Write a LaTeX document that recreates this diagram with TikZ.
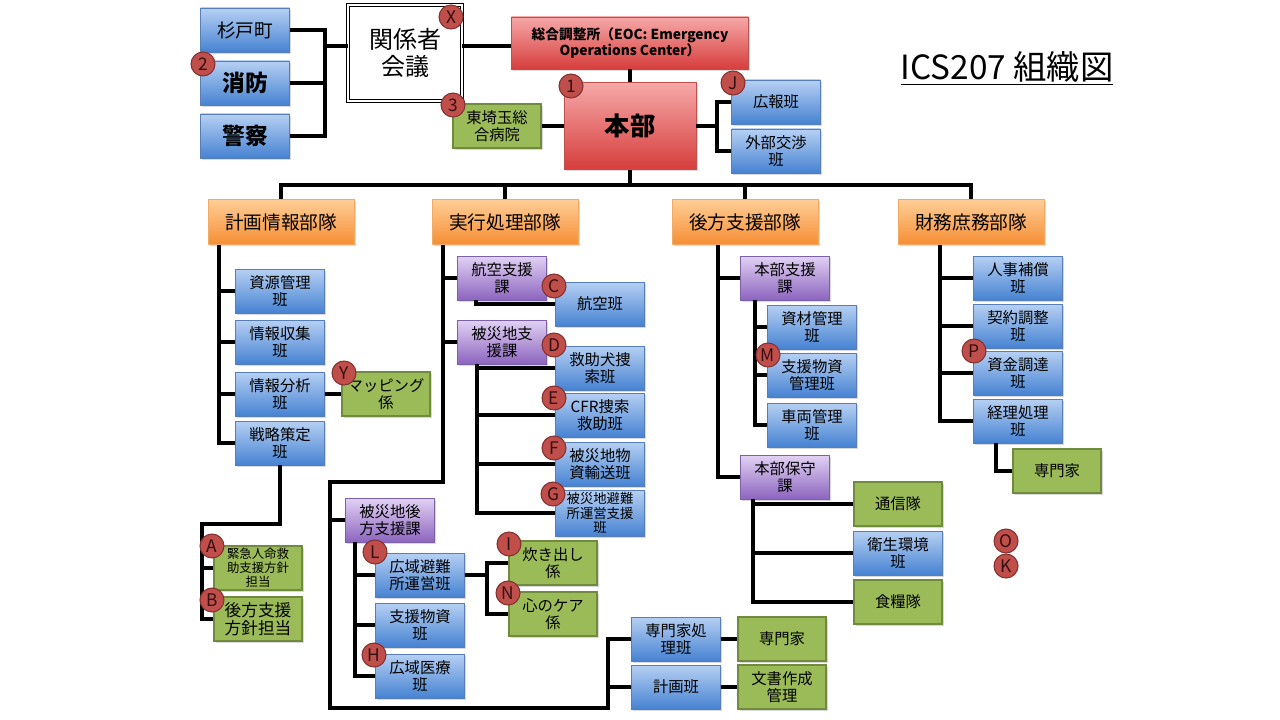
\documentclass[tikz,border=0pt]{standalone}
\usepackage{fontspec}
\newfontfamily\jp{Noto Sans CJK JP}
\usetikzlibrary{shadows}
\definecolor{bluetop}{RGB}{182,208,243}
\definecolor{bluebot}{RGB}{70,130,210}
\definecolor{blueline}{RGB}{88,126,182}
\definecolor{greenfill}{RGB}{155,187,89}
\definecolor{greenline}{RGB}{112,138,62}
\definecolor{purpletop}{RGB}{226,210,244}
\definecolor{purplebot}{RGB}{140,100,190}
\definecolor{purpleline}{RGB}{124,96,168}
\definecolor{orangetop}{RGB}{255,206,150}
\definecolor{orangebot}{RGB}{246,142,52}
\definecolor{orangeline}{RGB}{240,170,100}
\definecolor{redtop}{RGB}{246,168,168}
\definecolor{redbot}{RGB}{214,62,60}
\definecolor{redline}{RGB}{192,80,78}
\definecolor{badgefill}{RGB}{192,78,74}
\definecolor{badgeline}{RGB}{130,50,48}
\definecolor{badgetext}{RGB}{50,18,18}
\begin{document}
\begin{tikzpicture}[x=0.75pt,y=-0.75pt,
    conn/.style={line width=2.5pt, black},
    box/.style={rectangle, align=center, inner sep=1pt, minimum width=66.75pt,
        minimum height=33pt, font=\jp\fontsize{11.5}{12.5}\selectfont,
        drop shadow={opacity=0.3, shadow xshift=1.2pt, shadow yshift=-1.2pt}},
    bluebox/.style={box, draw=blueline, top color=bluetop, bottom color=bluebot},
    greenbox/.style={box, draw=greenline, line width=1.4pt, fill=greenfill, minimum width=66pt},
    purplebox/.style={box, draw=purpleline, top color=purpletop, bottom color=purplebot},
    orangebox/.style={box, draw=orangeline, top color=orangetop, bottom color=orangebot,
        minimum width=109.5pt, minimum height=33.75pt, font=\jp\fontsize{14}{15}\selectfont},
    redbox/.style={box, draw=redline, top color=redtop, bottom color=redbot},
    badge/.style={circle, draw=badgeline, line width=0.8pt, fill=badgefill, inner sep=0pt,
        minimum size=18pt, text=badgetext, font=\jp\fontsize{13}{13}\selectfont}]
  \fill[white] (0,0) rectangle (1280,720);
  \useasboundingbox (0,0) rectangle (1280,720);

  \node[bluebox, font=\jp\fontsize{14}{15}\selectfont] (sugito) at (245,30) {杉戸町};
  \node[bluebox, font=\jp\bfseries\fontsize{17}{18}\selectfont] (shobo) at (245,83) {消防};
  \node[bluebox, font=\jp\bfseries\fontsize{17}{18}\selectfont] (keisatsu) at (245,136) {警察};
  \node[box, draw, double, double distance=1.6pt, line width=0.6pt, fill=white,
    minimum width=85.5pt, minimum height=72pt, drop shadow={opacity=0},
    font=\jp\fontsize{18}{20}\selectfont] (kankei) at (405,53) {関係者\\会議};
  \node[redbox, minimum width=178pt, minimum height=39pt,
    font=\jp\bfseries\fontsize{10.3}{12.5}\selectfont] (eoc) at (630,43)
    {総合調整所（EOC: Emergency\\Operations Center）};
  \node[redbox, minimum width=99pt, minimum height=65pt,
    font=\jp\bfseries\fontsize{19}{20}\selectfont] (honbu) at (630,126) {本部};
  \node[greenbox] (byoin) at (497,126) {東埼玉総\\合病院};
  \node[bluebox] (kohohan) at (776,102) {広報班};
  \node[bluebox] (gaibu) at (776,151) {外部交渉\\班};
  \node[font=\jp\fontsize{25}{26}\selectfont] (title) at (1007,68) {\underline{ICS207 組織図}};

  \node[orangebox] (keikaku) at (281,222) {計画情報部隊};
  \node[orangebox] (jikko) at (505,222) {実行処理部隊};
  \node[orangebox] (kohobu) at (745,222) {後方支援部隊};
  \node[orangebox] (zaimu) at (971,222) {財務庶務部隊};

  \node[bluebox] (shigen) at (280,291) {資源管理\\班};
  \node[bluebox] (shushu) at (280,342) {情報収集\\班};
  \node[bluebox] (bunseki) at (280,394) {情報分析\\班};
  \node[bluebox] (senryaku) at (280,443) {戦略策定\\班};
  \node[greenbox] (mapping) at (386,394) {マッピング\\係};
  \node[greenbox, font=\jp\fontsize{9.3}{10.5}\selectfont] (kinkyu) at (258,568) {緊急人命救\\助支援方針\\担当};
  \node[greenbox, font=\jp\fontsize{12.5}{13.5}\selectfont] (kohoshin) at (258,619) {後方支援\\方針担当};

  \node[purplebox] (kokuka) at (502,278) {航空支援\\課};
  \node[bluebox] (kokuhan) at (600,304) {航空班};
  \node[purplebox] (hisaika) at (502,342) {被災地支\\援課};
  \node[bluebox] (kyujoken) at (600,368) {救助犬捜\\索班};
  \node[bluebox] (cfr) at (600,415) {CFR捜索\\救助班};
  \node[bluebox] (yuso) at (600,464) {被災地物\\資輸送班};
  \node[bluebox, minimum height=34.5pt, font=\jp\fontsize{10}{11}\selectfont] (hinanshien) at (600,513) {被災地避難\\所運営支援\\班};
  \node[purplebox] (koushien) at (390,520) {被災地後\\方支援課};
  \node[bluebox] (hinanunei) at (420,575) {広域避難\\所運営班};
  \node[bluebox] (busshihan) at (420,625) {支援物資\\班};
  \node[bluebox] (iryo) at (420,676) {広域医療\\班};
  \node[greenbox] (takidashi) at (553,563) {炊き出し\\係};
  \node[greenbox] (kokoro) at (553,614) {心のケア\\係};
  \node[bluebox] (senmonshori) at (676,639) {専門家処\\理班};
  \node[bluebox] (keikakuhan) at (676,687) {計画班};
  \node[greenbox] (senmonka) at (782,639) {専門家};
  \node[greenbox] (bunsho) at (782,687) {文書作成\\管理};

  \node[purplebox] (shienka) at (785,278) {本部支援\\課};
  \node[bluebox] (shizai) at (812,327) {資材管理\\班};
  \node[bluebox] (busshikanri) at (812,375) {支援物資\\管理班};
  \node[bluebox] (sharyo) at (812,425) {車両管理\\班};
  \node[purplebox] (hoshu) at (785,477) {本部保守\\課};
  \node[greenbox] (tsushin) at (898,504) {通信隊};
  \node[bluebox] (eisei) at (898,553) {衛生環境\\班};
  \node[greenbox] (shokuryo) at (898,602) {食糧隊};

  \node[bluebox] (jinji) at (1018,278) {人事補償\\班};
  \node[bluebox] (keiyaku) at (1018,326) {契約調整\\班};
  \node[bluebox] (shikin) at (1018,373) {資金調達\\班};
  \node[bluebox] (keiri) at (1018,421) {経理処理\\班};
  \node[greenbox] (senmonzaimu) at (1057,471) {専門家};

  \coordinate (kj) at (325,46);
  \draw[conn] (sugito.east) -| (kj) (keisatsu.east) -| (kj) (shobo.east) -- (shobo.east -| kj);
  \draw[conn] (kj) -- (kankei.west |- kj) (kankei.east |- kj) -- (eoc.west |- kj);
  \draw[conn] (eoc.south) -- (honbu.north);
  \draw[conn] (byoin.east) -- (honbu.west);
  \coordinate (hj) at (717,126);
  \draw[conn] (honbu.east) -- (hj) (kohohan.west) -| (hj) (gaibu.west) -| (hj);
  \coordinate (mb) at (630,185);
  \draw[conn] (honbu.south) -- (mb) (keikaku.north) |- (mb) -| (zaimu.north);
  \draw[conn] (jikko.north) -- (jikko.north |- mb) (kohobu.north) -- (kohobu.north |- mb);

  \coordinate (kx) at (219,245);
  \draw[conn] (keikaku.south -| kx) |- (senryaku.west);
  \foreach \n in {shigen,shushu,bunseki} \draw[conn] (\n.west) -- (\n.west -| kx);
  \draw[conn] (bunseki.east) -- (mapping.west);
  \coordinate (ax) at (202,524);
  \draw[conn] (senryaku.south) |- (ax) |- (kohoshin.west) (kinkyu.west) -- (kinkyu.west -| ax);

  \coordinate (j1) at (443,482);
  \coordinate (j2) at (330,708);
  \coordinate (j3) at (608,708);
  \draw[conn] (jikko.south -| j1) -- (j1) -| (j2) -- (j3) |- (senmonshori.west);
  \draw[conn] (keikakuhan.west) -- (keikakuhan.west -| j3);
  \draw[conn] (kokuka.west) -- (kokuka.west -| j1) (hisaika.west) -- (hisaika.west -| j1)
    (koushien.west) -- (koushien.west -| j2);
  \coordinate (kk) at (476,300);
  \draw[conn] (kokuka.south -| kk) |- (kokuhan.west);
  \coordinate (hx) at (477,364);
  \draw[conn] (hisaika.south -| hx) |- (hinanshien.west);
  \foreach \n in {kyujoken,cfr,yuso} \draw[conn] (\n.west) -- (\n.west -| hx);
  \coordinate (lx) at (355,542);
  \draw[conn] (koushien.south -| lx) |- (iryo.west);
  \foreach \n in {hinanunei,busshihan} \draw[conn] (\n.west) -- (\n.west -| lx);
  \coordinate (tj) at (487,575);
  \draw[conn] (hinanunei.east) -- (tj) (takidashi.west) -| (tj) (kokoro.west) -| (tj);
  \draw[conn] (senmonshori.east) -- (senmonka.west) (keikakuhan.east) -- (bunsho.west);

  \coordinate (bx) at (718,245);
  \draw[conn] (kohobu.south -| bx) |- (hoshu.west) (shienka.west) -- (shienka.west -| bx);
  \coordinate (sx) at (755,300);
  \draw[conn] (shienka.south -| sx) |- (sharyo.west);
  \foreach \n in {shizai,busshikanri} \draw[conn] (\n.west) -- (\n.west -| sx);
  \coordinate (tx) at (753,499);
  \draw[conn] (hoshu.south -| tx) |- (shokuryo.west);
  \foreach \n in {tsushin,eisei} \draw[conn] (\n.west) -- (\n.west -| tx);

  \coordinate (zx) at (940,245);
  \draw[conn] (zaimu.south -| zx) |- (keiri.west);
  \foreach \n in {jinji,keiyaku,shikin} \draw[conn] (\n.west) -- (\n.west -| zx);
  \coordinate (rx) at (996,443);
  \draw[conn] (keiri.south -| rx) |- (senmonzaimu.west);

  \foreach \t/\x/\y in {X/451/17, 2/203/64, 3/453/105, 1/571/86, J/733/83, C/554/286,
      D/554/345, Y/344/373, E/554/398, F/554/448, G/553/494, M/768/355, P/974/351,
      A/212/546, B/212/600, L/375/552, I/509/544, N/508/593, H/374/655, O/1006/541, K/1006/566}
    \node[badge] (b\t) at (\x,\y) {\t};
\end{tikzpicture}
\end{document}
